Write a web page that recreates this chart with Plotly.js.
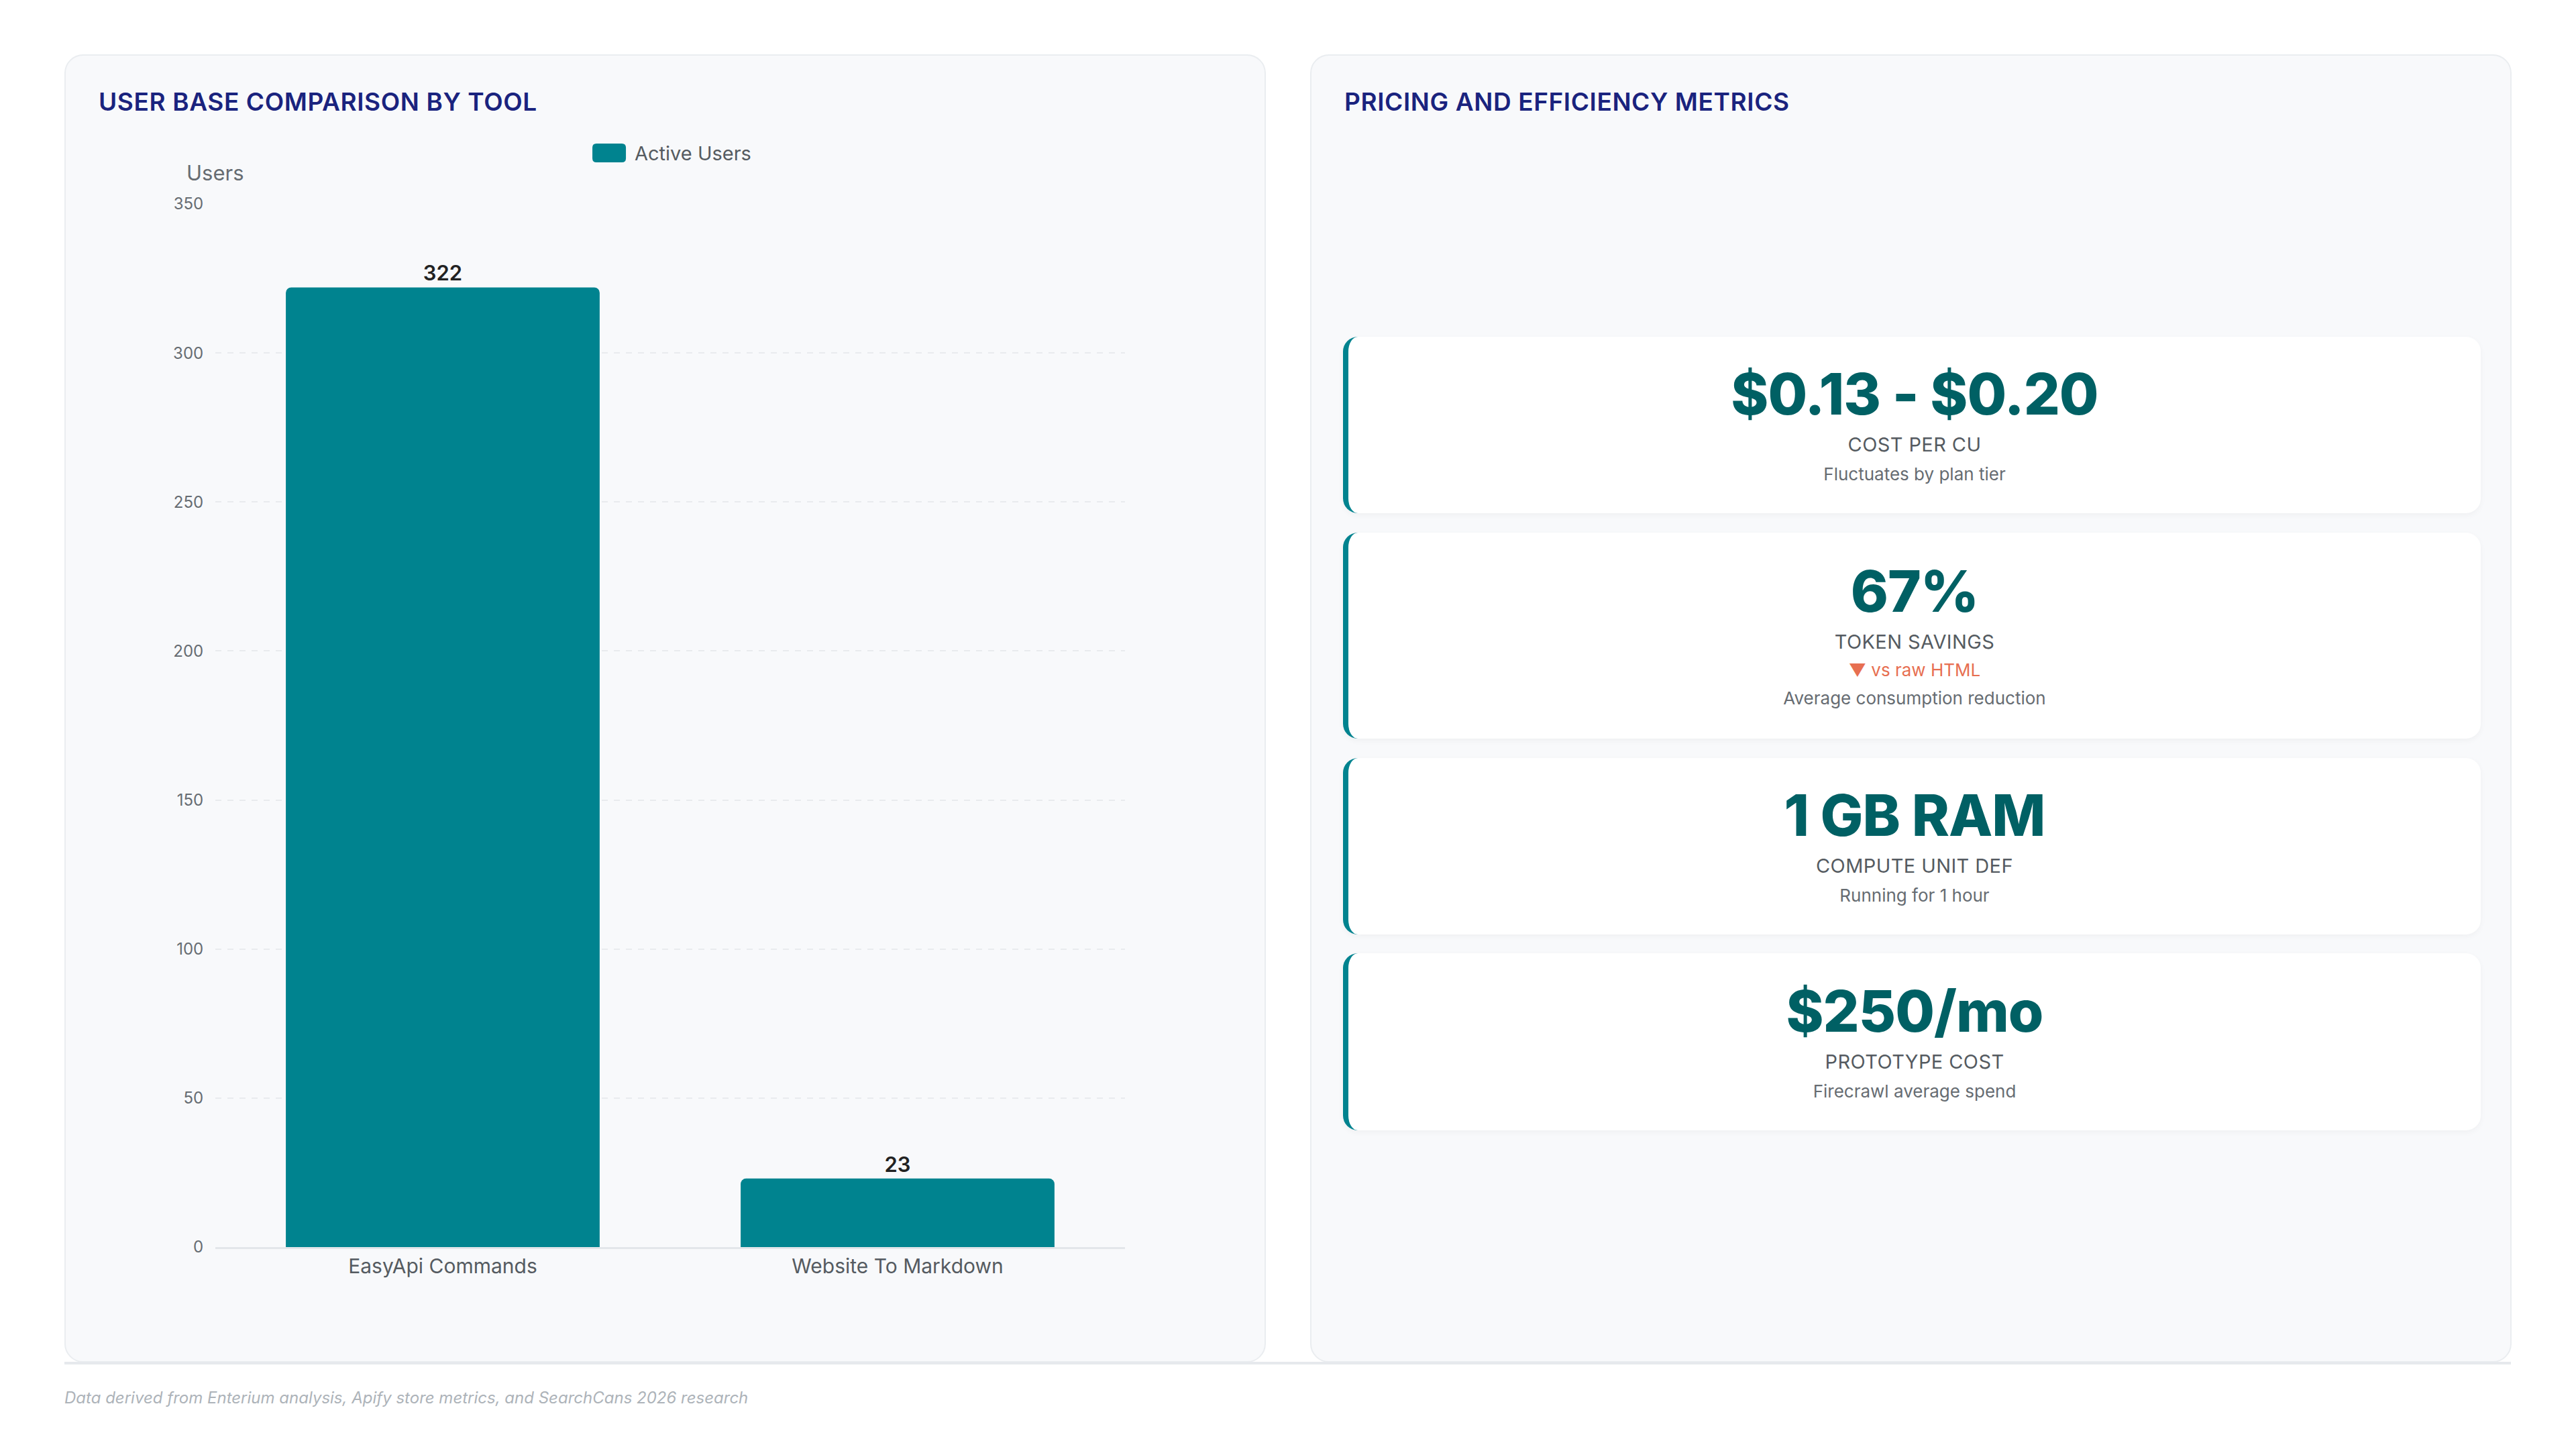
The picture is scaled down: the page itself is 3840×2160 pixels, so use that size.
<!DOCTYPE html>
<html>
<head>
<meta charset="utf-8">
<script src="https://cdn.plot.ly/plotly-3.0.1.min.js"></script>
<style>
  html, body { margin: 0; padding: 0; background: #ffffff; font-family: Inter, "Noto Sans", sans-serif; }
  #page { position: relative; width: 3840px; height: 2160px; }
  .panel {
    position: absolute; top: 81px; width: 1791px; height: 1950px; box-sizing: border-box;
    background: #f8f9fb; border: 2px solid #eaedf0; border-radius: 28px;
  }
  #left { left: 96px; }
  #right { left: 1953px; }
  #rule { position: absolute; left: 96px; top: 2030px; width: 3647px; height: 4px; background: #e6e9ed; }
  .head {
    position: absolute; left: 49px; top: 50px; margin: 0; line-height: 1;
    font-size: 37px; font-weight: 600; color: #1a237e; letter-spacing: 0.6px;
  }
  #chart { position: absolute; left: 0; top: 0; width: 1787px; height: 1946px; }
  .card {
    position: absolute; left: 47px; width: 1696px; box-sizing: border-box;
    background: #ffffff; border-left: 8px solid #00838f; border-radius: 22px;
    box-shadow: 0 3px 10px rgba(0,0,0,0.04);
    display: flex; flex-direction: column; align-items: center; justify-content: center;
  }
  .big { font-size: 85px; font-weight: 800; color: #006064; line-height: 1; letter-spacing: -1px; }
  .lbl { font-size: 29px; color: #555b61; margin-top: 15px; letter-spacing: 0.4px; }
  .note { font-size: 26px; color: #e76f51; margin-top: 9px; }
  .sub { font-size: 26px; color: #666c72; margin-top: 11px; }
  #foot { position: absolute; left: 96px; top: 2069px; font-size: 24px; font-style: italic; color: #adb3b9; }
</style>
</head>
<body>
<div id="page">
  <div class="panel" id="left">
    <div id="chart"></div>
    <h2 class="head">USER BASE COMPARISON BY TOOL</h2>
  </div>
  <div class="panel" id="right">
    <h2 class="head">PRICING AND EFFICIENCY METRICS</h2>
    <div id="cards"></div>
  </div>
  <div id="rule"></div>
  <div id="foot">Data derived from Enterium analysis, Apify store metrics, and SearchCans 2026 research</div>
</div>
<script>
// bar chart data
const tools = ['EasyApi Commands', 'Website To Markdown'];
const activeUsers = [322, 23];
const yTicks = [0, 50, 100, 150, 200, 250, 300, 350];
const seriesName = 'Active Users';

// metric cards
const metricValues = ['$0.13 - $0.20', '67%', '1 GB RAM', '$250/mo'];
const metricLabels = ['COST PER CU', 'TOKEN SAVINGS', 'COMPUTE UNIT DEF', 'PROTOTYPE COST'];
const metricNotes = ['', '\u25BC vs raw HTML', '', ''];
const metricSubs = ['Fluctuates by plan tier', 'Average consumption reduction', 'Running for 1 hour', 'Firecrawl average spend'];

const cardTops = [419, 711, 1047, 1338];
const cardHeights = [263, 307, 263, 264];

const cardsEl = document.getElementById('cards');
metricValues.forEach((v, i) => {
    const c = document.createElement('div');
    c.className = 'card';
    c.style.top = cardTops[i] + 'px';
    c.style.height = cardHeights[i] + 'px';
    let html = '<div class="big">' + v + '</div><div class="lbl">' + metricLabels[i] + '</div>';
    if (metricNotes[i]) html += '<div class="note">' + metricNotes[i] + '</div>';
    html += '<div class="sub">' + metricSubs[i] + '</div>';
    c.innerHTML = html;
    cardsEl.appendChild(c);
});

const teal = '#00838f';

const data = [{
    type: 'bar',
    x: tools,
    y: activeUsers,
    name: seriesName,
    marker: { color: teal, cornerradius: 8 },
    text: activeUsers.map(String),
    textposition: 'outside',
    textfont: { family: 'Inter', size: 31, color: '#222222', weight: 600 },
    cliponaxis: false,
    hoverinfo: 'skip',
}];

const layout = {
    width: 1787,
    height: 1946,
    paper_bgcolor: 'rgba(0,0,0,0)',
    plot_bgcolor: 'rgba(0,0,0,0)',
    margin: { l: 223, r: 208, t: 221, b: 170 },
    font: { family: 'Inter', color: '#666c72' },
    bargap: 0.31,
    showlegend: false,
    xaxis: {
        tickfont: { size: 30, color: '#555b61' },
        showgrid: false,
        showline: true, linecolor: '#e3e6ea', linewidth: 3,
        ticks: '', ticklen: 0,
    },
    yaxis: {
        range: [0, 350],
        tickvals: yTicks,
        tickfont: { size: 24, color: '#666c72' },
        gridcolor: '#e9ebee', griddash: 'dash', gridwidth: 2,
        zeroline: false, showline: false,
        ticks: 'outside', ticklen: 12, tickcolor: 'rgba(0,0,0,0)',
    },
    // legend swatch drawn as a rounded pill above the plot
    shapes: [{
        type: 'path', xref: 'paper', yref: 'paper',
        xsizemode: 'pixel', ysizemode: 'pixel', xanchor: 0.4145, yanchor: 1,
        path: 'M 6,62 L 44,62 Q 50,62 50,68 L 50,84 Q 50,90 44,90 L 6,90 Q 0,90 0,84 L 0,68 Q 0,62 6,62 Z',
        fillcolor: teal, line: { width: 0 },
    }],
    annotations: [{
        text: seriesName, xref: 'paper', yref: 'paper', x: 0.4594, y: 1, yshift: 76,
        xanchor: 'left', yanchor: 'middle', showarrow: false,
        font: { size: 29, color: '#555b61' },
    }, {
        text: 'Users', xref: 'paper', yref: 'paper', x: 0, y: 1, yshift: 47,
        xanchor: 'center', yanchor: 'middle', showarrow: false,
        font: { size: 31, color: '#666c72' },
    }],
};

Plotly.newPlot('chart', data, layout, { displayModeBar: false, staticPlot: true });
</script>
</body>
</html>
